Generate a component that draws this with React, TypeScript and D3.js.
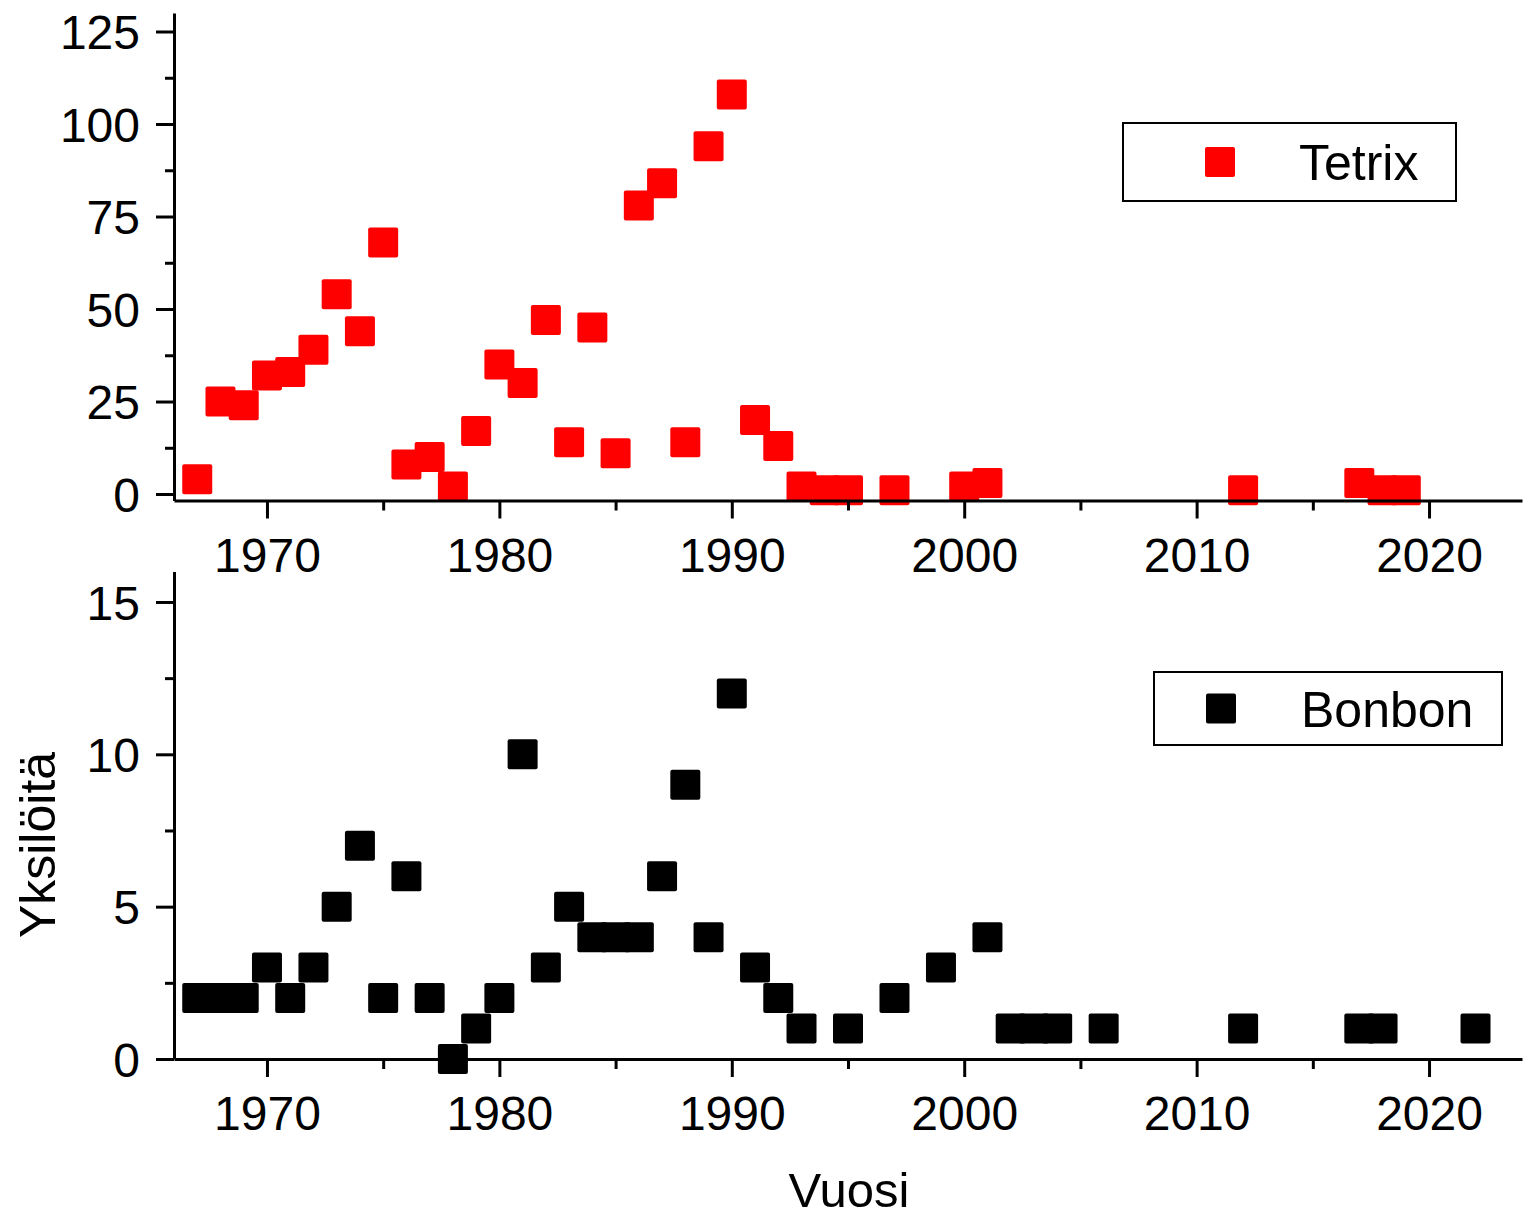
import { useEffect, useRef } from 'react';
import * as d3 from 'd3';

// Tetrix (top panel)
const tetrixYears = [1967, 1968, 1969, 1970, 1971, 1972, 1973, 1974, 1975, 1976, 1977, 1978, 1979, 1980, 1981, 1982, 1983, 1984, 1985, 1986, 1987, 1988, 1989, 1990, 1991, 1992, 1993, 1994, 1995, 1997, 2000, 2001, 2012, 2017, 2018, 2019];
const tetrixCounts = [4, 25, 24, 32, 33, 39, 54, 44, 68, 8, 10, 2, 17, 35, 30, 47, 14, 45, 11, 78, 84, 14, 94, 108, 20, 13, 2, 1, 1, 1, 2, 3, 1, 3, 1, 1];

// Bonbon (bottom panel)
const bonbonYears = [1967, 1968, 1969, 1970, 1971, 1972, 1973, 1974, 1975, 1976, 1977, 1978, 1979, 1980, 1981, 1982, 1983, 1984, 1985, 1986, 1987, 1988, 1989, 1990, 1991, 1992, 1993, 1995, 1997, 1999, 2001, 2002, 2003, 2004, 2006, 2012, 2017, 2018, 2022];
const bonbonCounts = [2, 2, 2, 3, 2, 3, 5, 7, 2, 6, 2, 0, 1, 2, 10, 3, 5, 4, 4, 4, 6, 9, 4, 12, 3, 2, 1, 1, 2, 3, 4, 1, 1, 1, 1, 1, 1, 1, 1];

const yearTicks = [1970, 1980, 1990, 2000, 2010, 2020];
const yearMinorTicks = [1975, 1985, 1995, 2005, 2015];
const tetrixTicks = [0, 25, 50, 75, 100, 125];
const tetrixMinorTicks = [12.5, 37.5, 62.5, 87.5, 112.5];
const bonbonTicks = [0, 5, 10, 15];
const bonbonMinorTicks = [2.5, 7.5, 12.5];

const FONT = '"Liberation Sans", Arial, sans-serif';

export default function App() {
    const ref = useRef<SVGSVGElement>(null);

    useEffect(() => {
        const svg = d3.select(ref.current);
        svg.selectAll('*').remove();

        const x = d3.scaleLinear().domain([1966, 2024]).range([174, 1522]);

        const panels = [
            {
                name: 'Tetrix', color: '#ff0000', years: tetrixYears, counts: tetrixCounts,
                y: d3.scaleLinear().domain([-1.75, 130]).range([500.5, 13]),
                ticks: tetrixTicks, minor: tetrixMinorTicks,
                legend: { x: 1123, y: 123, w: 333, h: 78, mx: 1220, tx: 1299 }
            },
            {
                name: 'Bonbon', color: '#000000', years: bonbonYears, counts: bonbonCounts,
                y: d3.scaleLinear().domain([0, 16]).range([1059, 571.5]),
                ticks: bonbonTicks, minor: bonbonMinorTicks,
                legend: { x: 1154, y: 672, w: 348, h: 73, mx: 1221, tx: 1301 }
            }
        ];

        const size = 30;

        panels.forEach(p => {
            const g = svg.append('g');
            const pts = p.years.map((yr, i) => [yr, p.counts[i]]);

            g.selectAll('rect.pt')
                .data(pts)
                .join('rect')
                .attr('x', d => x(d[0]) - size / 2)
                .attr('y', d => p.y(d[1]) - size / 2)
                .attr('width', size)
                .attr('height', size)
                .attr('rx', 2)
                .attr('fill', p.color);

            const y0 = p.y.range()[0];

            // x axis
            const xa = g.append('g').attr('transform', `translate(0,${y0})`);
            xa.call(d3.axisBottom(x).tickValues(yearTicks).tickSize(18).tickSizeOuter(0).tickPadding(19).tickFormat(d3.format('d')));
            const xm = g.append('g').attr('transform', `translate(0,${y0})`);
            xm.call(d3.axisBottom(x).tickValues(yearMinorTicks).tickSize(10).tickSizeOuter(0).tickFormat(() => ''));
            xm.select('.domain').remove();

            // y axis
            const ya = g.append('g').attr('transform', 'translate(174,0)');
            ya.call(d3.axisLeft(p.y).tickValues(p.ticks).tickSize(18).tickSizeOuter(0).tickPadding(16));
            const ym = g.append('g').attr('transform', 'translate(174,0)');
            ym.call(d3.axisLeft(p.y).tickValues(p.minor).tickSize(9).tickSizeOuter(0).tickFormat(() => ''));
            ym.select('.domain').remove();

            [xa, xm, ya, ym].forEach(a => {
                a.selectAll('path, line').attr('stroke', '#000').attr('stroke-width', 3);
                a.selectAll('text').attr('fill', '#000').style('font-family', FONT).style('font-size', '48px');
            });
            ya.selectAll('text').attr('dy', '0.36em');

            // legend
            const L = p.legend;
            g.append('rect')
                .attr('x', L.x).attr('y', L.y).attr('width', L.w).attr('height', L.h)
                .attr('fill', '#fff').attr('stroke', '#000').attr('stroke-width', 2);
            g.append('rect')
                .attr('x', L.mx - size / 2).attr('y', L.y + L.h / 2 - size / 2)
                .attr('width', size).attr('height', size).attr('rx', 2)
                .attr('fill', p.color);
            g.append('text')
                .attr('x', L.tx).attr('y', L.y + L.h / 2 + 18)
                .style('font-family', FONT).style('font-size', '50px')
                .text(p.name);
        });

        svg.append('text')
            .attr('x', 849).attr('y', 1207)
            .attr('text-anchor', 'middle')
            .style('font-family', FONT).style('font-size', '49px')
            .text('Vuosi');

        svg.append('text')
            .attr('transform', 'translate(55,845) rotate(-90)')
            .attr('text-anchor', 'middle')
            .style('font-family', FONT).style('font-size', '50px')
            .text('Yksilöitä');

        return () => {
            d3.select(ref.current).selectAll('*').remove();
        };
    });

    return (
        <svg ref={ref} width={1524} height={1220}
            style={{ position: 'absolute', left: 0, top: 0, background: '#fff' }} />
    );
}
